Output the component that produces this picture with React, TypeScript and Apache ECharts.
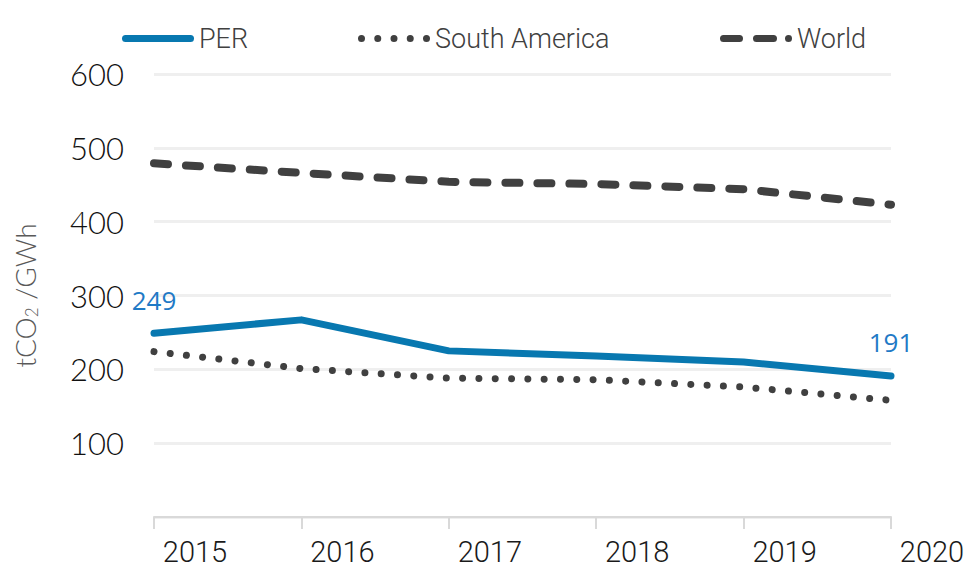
import React, { useEffect, useRef } from "react";
import * as echarts from "echarts";

const years = ["2015", "2016", "2017", "2018", "2019", "2020"];
const perValues = [249, 267, 225, 218, 210, 191];
const southAmericaValues = [224, 201, 188, 186, 176, 158];
const worldValues = [479, 466, 454, 451, 444, 423];
const yTicks = [0, 100, 200, 300, 400, 500, 600];

const condensed = "Roboto, 'Open Sans', sans-serif";
const light = "Lato, 'Open Sans', sans-serif";

const circ = (cx: number) =>
  `M${cx - 3.5},3.5 A3.5,3.5 0 1 0 ${cx + 3.5},3.5 A3.5,3.5 0 1 0 ${cx - 3.5},3.5 Z`;
const rrect = (x0: number, x1: number) =>
  `M${x0 + 3.5},0 H${x1 - 3.5} A3.5,3.5 0 0 1 ${x1 - 3.5},7 H${x0 + 3.5} A3.5,3.5 0 0 1 ${x0 + 3.5},0 Z`;

const perIcon = "path://" + rrect(0, 72);
const saIcon = "path://" + [3.5, 19.75, 36, 52.25, 68.5].map(circ).join(" ");
const worldIcon = "path://" + rrect(0, 23) + " " + rrect(33, 57) + " " + circ(68.5);

export default function App() {
  const ref = useRef<HTMLDivElement>(null);
  useEffect(() => {
    if (!ref.current) return;
    const chart = echarts.init(ref.current, null, { renderer: "svg" });
    const lastIdx = perValues.length - 1;
    const legendBase = {
      top: 20,
      itemWidth: 72,
      itemHeight: 7,
      textStyle: { fontFamily: condensed, fontWeight: 300, fontSize: 27, color: "#404040" },
    };
    chart.setOption({
      animation: false,
      backgroundColor: "#ffffff",
      legend: [
        { ...legendBase, left: 117, data: [{ name: "PER", icon: perIcon }] },
        { ...legendBase, left: 353, data: [{ name: "South America", icon: saIcon }] },
        { ...legendBase, left: 715, data: [{ name: "World", icon: worldIcon }] },
      ],
      grid: { left: 154, right: 78, top: 74, bottom: 52, containLabel: false },
      xAxis: {
        type: "category",
        data: years,
        boundaryGap: false,
        axisLine: { show: true, lineStyle: { color: "#d9d9d9", width: 2 } },
        axisTick: { show: true, length: 12, lineStyle: { color: "#d9d9d9", width: 2 } },
        axisLabel: {
          fontFamily: condensed,
          fontWeight: 300,
          fontSize: 29,
          lineHeight: 29,
          color: "#1a1a1a",
          margin: 20,
          padding: [0, 0, 0, 82],
        },
      },
      yAxis: {
        type: "value",
        min: yTicks[0],
        max: yTicks[yTicks.length - 1],
        interval: 100,
        name: "{a|tCO}{s|2}{a| /GWh}",
        nameLocation: "middle",
        nameGap: 114,
        nameRotate: 90,
        nameTextStyle: {
          rich: {
            a: { fontFamily: light, fontWeight: 300, fontSize: 28, color: "#595959" },
            s: { fontFamily: light, fontWeight: 300, fontSize: 17, color: "#595959", verticalAlign: "bottom", padding: [14, 0, 0, 0] },
          },
        },
        axisLine: { show: false },
        axisTick: { show: false },
        splitLine: { lineStyle: { color: "#efefef", width: 3 } },
        axisLabel: {
          fontFamily: light,
          fontWeight: 300,
          fontSize: 31,
          color: "#111",
          margin: 30,
          formatter: (v: number) => (v === 0 ? "" : String(v)),
        },
      },
      series: [
        {
          name: "PER",
          type: "line",
          data: perValues.map((v, i) => ({
            value: v,
            label: {
              show: i === 0 || i === lastIdx,
              position: "top",
              distance: 20,
              formatter: "{c}",
              fontFamily: "'Open Sans', sans-serif",
              fontSize: 26,
              color: "#1f7ac6",
            },
          })),
          symbol: "circle",
          symbolSize: 1,
          showSymbol: true,
          color: "#0878b0",
          itemStyle: { color: "#0878b0" },
          lineStyle: { color: "#0878b0", width: 7, cap: "round", join: "round" },
          z: 3,
        },
        {
          name: "South America",
          type: "line",
          data: southAmericaValues,
          symbol: "none",
          color: "#404040",
          lineStyle: { color: "#404040", width: 7, type: [0.01, 16.3], cap: "round" },
        },
        {
          name: "World",
          type: "line",
          data: worldValues,
          symbol: "none",
          color: "#404040",
          lineStyle: { color: "#404040", width: 8, type: [14, 18], cap: "round", join: "round" },
        },
      ],
    });
    return () => chart.dispose();
  }, []);
  return <div ref={ref} style={{ width: 969, height: 569, position: "absolute", left: 0, top: 0 }} />;
}
